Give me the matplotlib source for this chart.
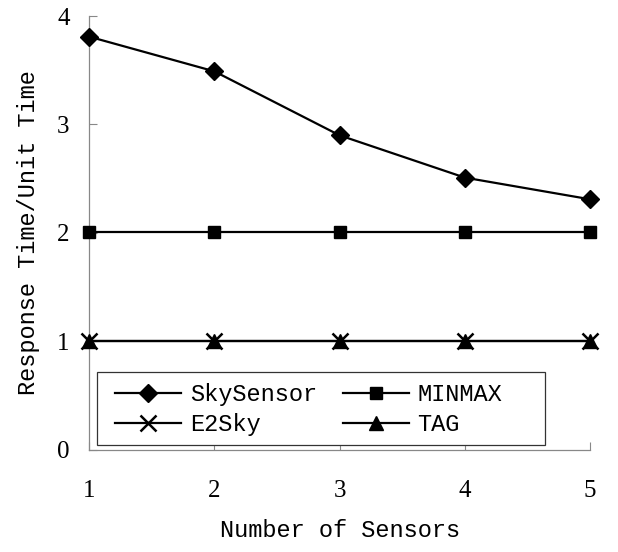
import matplotlib
matplotlib.use("Agg")
import matplotlib.pyplot as plt
from matplotlib.lines import Line2D
from matplotlib.patches import Rectangle

sensors = [1, 2, 3, 4, 5]
skysensor = [3.81, 3.49, 2.90, 2.51, 2.31]
minmax = [2.01, 2.01, 2.01, 2.01, 2.01]
e2sky = [1.0, 1.0, 1.0, 1.0, 1.0]
tag = [1.0, 1.0, 1.0, 1.0, 1.0]
yticks = [0, 1, 2, 3, 4]

mono = ["Liberation Mono", "DejaVu Sans Mono"]
serif = ["Liberation Serif", "DejaVu Serif"]

fig = plt.figure(figsize=(6.18, 5.52), dpi=100)
ax = fig.add_axes([0.144, 0.185, 0.811, 0.786])

lw = 1.6
ax.plot(sensors, skysensor, color="black", lw=lw, marker="D", markersize=9,
        zorder=4, clip_on=False)
ax.plot(sensors, minmax, color="black", lw=lw, marker="s", markersize=9,
        zorder=3, clip_on=False)
ax.plot(sensors, e2sky, color="black", lw=lw, marker="x", markersize=11,
        markeredgewidth=1.8, zorder=3, clip_on=False)
ax.plot(sensors, tag, color="black", lw=lw, marker="^", markersize=10,
        zorder=3, clip_on=False)

handles = [
    Line2D([], [], color="black", lw=lw, marker="D", markersize=9),
    Line2D([], [], color="black", lw=lw, marker="x", markersize=11, markeredgewidth=1.8),
    Line2D([], [], color="black", lw=lw, marker="s", markersize=9),
    Line2D([], [], color="black", lw=lw, marker="^", markersize=10),
]
labels = ["SkySensor", "E2Sky", "MINMAX", "TAG"]

ax.set_xlim(1, 5)
ax.set_ylim(0, 4)
ax.set_xticks(sensors)
ax.set_yticks(yticks)
ax.set_xticklabels([str(s) for s in sensors], fontfamily=serif, fontsize=18)
ax.set_yticklabels([str(v) for v in yticks], fontfamily=serif, fontsize=18)
ax.tick_params(axis="both", direction="in", length=6, width=0.8, color="#888888")
ax.tick_params(axis="x", pad=22)
ax.tick_params(axis="y", pad=14)

for s in ["top", "right"]:
    ax.spines[s].set_visible(False)
for s in ["left", "bottom"]:
    ax.spines[s].set_color("#888888")
    ax.spines[s].set_linewidth(0.9)

ax.set_xlabel("Number of Sensors", fontfamily=mono, fontsize=17, labelpad=12)
ax.set_ylabel("Response Time/Unit Time", fontfamily=mono, fontsize=17, labelpad=12)

# legend frame drawn as a box with extra room on the right, as in the original
box = Rectangle((0.016, 0.0115), 0.894, 0.169, transform=ax.transAxes,
                facecolor="white", edgecolor="#333333", linewidth=0.9,
                zorder=5, clip_on=False)
ax.add_patch(box)

leg = ax.legend(handles, labels, ncol=2, loc="lower left",
                bbox_to_anchor=(0.036, 0.012),
                prop={"family": mono, "size": 17}, frameon=False,
                handlelength=2.8, handletextpad=0.35,
                borderaxespad=0, columnspacing=1.1, labelspacing=0.3,
                borderpad=0.35)
leg.set_zorder(6)

fig.savefig("out.png", dpi=100)
